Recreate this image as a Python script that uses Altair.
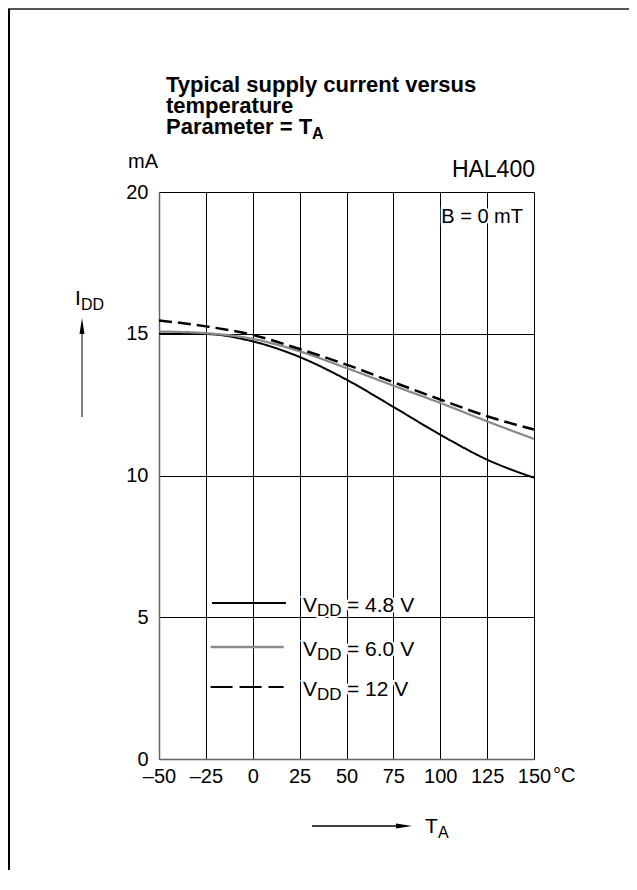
import altair as alt
import pandas as pd

FONT = "Liberation Sans"

# ---- data ----
temps = [-50, -25, 0, 25, 50, 75, 100, 125, 150]
i_48 = [15.00, 14.99, 14.73, 14.18, 13.38, 12.42, 11.44, 10.56, 9.92]
i_60 = [15.08, 15.02, 14.82, 14.38, 13.79, 13.17, 12.56, 11.91, 11.29]
i_12 = [15.47, 15.26, 14.96, 14.46, 13.91, 13.29, 12.68, 12.09, 11.62]
series_names = ["4.8 V", "6.0 V", "12 V"]
series_values = [i_48, i_60, i_12]
x_ticks = [-50, -25, 0, 25, 50, 75, 100, 125, 150]
y_ticks = [0, 5, 10, 15, 20]

# styles
series_colors = ["#000000", "#8a8a8a", "#000000"]
series_dash = [[1, 0], [1, 0], [13, 6]]
legend_dash = [[1, 0], [1, 0], [22, 7]]
series_width = [2, 2.5, 2]

# legend placement (data units)
legend_x1 = [-21.7, -22.5, -22.5]
legend_x2 = [17.7, 16.5, 16.5]
legend_y = [5.5, 3.95, 2.54]
legend_label_x = 26.8

rows = []
for name, vals in zip(series_names, series_values):
    for t, v in zip(temps, vals):
        rows.append({"T": t, "I": v, "series": name})
df = pd.DataFrame(rows)

xscale = alt.Scale(domain=[-50, 150], nice=False, zero=False)
yscale = alt.Scale(domain=[0, 20], nice=False)
xaxis = alt.Axis(values=x_ticks, grid=True, gridColor="#000", gridWidth=1, gridOpacity=1,
                 tickSize=0, labelPadding=7, labelFontSize=20, labelFont=FONT,
                 labelColor="#000", labelFlush=False, labelOverlap=False,
                 domainColor="#666", domainWidth=1.5, title=None,
                 labelExpr="datum.value < 0 ? '\u2013' + abs(datum.value) : '' + datum.value")
yaxis = alt.Axis(values=y_ticks, grid=True, gridColor="#000", gridWidth=1, gridOpacity=1,
                 tickSize=0, labelPadding=11, labelFontSize=20, labelFont=FONT,
                 labelColor="#000", labelFlush=False, labelOverlap=False,
                 domainColor="#666", domainWidth=1.5, title=None)

layers = []

curves = alt.Chart(df).mark_line(interpolate="monotone").encode(
    x=alt.X("T:Q", scale=xscale, axis=xaxis),
    y=alt.Y("I:Q", scale=yscale, axis=yaxis),
    color=alt.Color("series:N", scale=alt.Scale(domain=series_names, range=series_colors), legend=None),
    strokeDash=alt.StrokeDash("series:N", scale=alt.Scale(domain=series_names, range=series_dash), legend=None),
    strokeWidth=alt.StrokeWidth("series:N", scale=alt.Scale(domain=series_names, range=series_width), legend=None),
    detail="series:N",
)
layers.append(curves)

# ---- legend (data coords) ----
for i, name in enumerate(series_names):
    ldf = pd.DataFrame({"x1": [legend_x1[i]], "x2": [legend_x2[i]], "y": [legend_y[i]],
                        "lx": [legend_label_x]})
    layers.append(alt.Chart(ldf).mark_rule(color=series_colors[i], strokeWidth=series_width[i],
                                           strokeDash=legend_dash[i]).encode(
        x=alt.X("x1:Q", scale=xscale, axis=xaxis), x2="x2:Q",
        y=alt.Y("y:Q", scale=yscale, axis=yaxis)))
    pieces = [("V", 0, 9, 21), ("DD", 14, 13, 17), ("= " + name, 44, 9, 21)]
    for txt, dx, dy, fs in pieces:
        for halo in (True, False):
            kw = dict(text=txt, font=FONT, fontSize=fs, align="left", baseline="alphabetic",
                      dx=dx, dy=dy, color="#000")
            if halo:
                kw.update(stroke="#fff", strokeWidth=4, color="#fff")
            layers.append(alt.Chart(ldf).mark_text(**kw).encode(
                x=alt.X("lx:Q", scale=xscale, axis=xaxis),
                y=alt.Y("y:Q", scale=yscale, axis=yaxis)))

one = pd.DataFrame({"k": [0]})


def ptext(txt, x, y, size=20, weight="normal", align="left", halo=False):
    out = []
    if halo:
        out.append(alt.Chart(one).mark_text(text=txt, font=FONT, fontSize=size, fontWeight=weight,
                                            align=align, baseline="alphabetic", color="#fff",
                                            stroke="#fff", strokeWidth=4).encode(
            x=alt.value(x), y=alt.value(y)))
    out.append(alt.Chart(one).mark_text(text=txt, font=FONT, fontSize=size, fontWeight=weight,
                                        align=align, baseline="alphabetic", color="#000").encode(
        x=alt.value(x), y=alt.value(y)))
    return out


def prule(x, x2, y, y2, color="#000", width=1.5):
    return alt.Chart(one).mark_rule(color=color, strokeWidth=width).encode(
        x=alt.value(x), x2=alt.value(x2), y=alt.value(y), y2=alt.value(y2))


def parrow(x, y, shape):
    return alt.Chart(one).mark_point(shape=shape, filled=True, size=256, color="#000",
                                     opacity=1, strokeWidth=0).encode(
        x=alt.value(x), y=alt.value(y))


# ---- title ----
layers += ptext("Typical supply current versus", 7, -100, 22, "bold")
layers += ptext("temperature", 7, -79, 22, "bold")
layers += ptext("Parameter = T", 7, -58, 22, "bold")
layers += ptext("A", 153, -53, 16, "bold")

# ---- corner texts ----
layers += ptext("mA", -31, -24, 20)
layers += ptext("HAL400", 376, -15, 23, align="right")
layers += ptext("B = 0 mT", 364, 31, 20, align="right", halo=True)
layers += ptext("\u00b0C", 394, 590, 20)

# ---- y quantity label + arrow ----
layers += ptext("I", -84, 113, 21)
layers += ptext("DD", -78, 118, 16)
layers.append(prule(-77, -77, 142, 225, "#555", 1.5))
layers.append(parrow(-77, 134, "M0,-1L0.31,1L-0.31,1Z"))

# ---- x quantity label + arrow ----
layers.append(prule(153, 240, 634, 634, "#000", 1.5))
layers.append(parrow(245, 634, "M1,0L-1,-0.31L-1,0.31Z"))
layers += ptext("T", 266, 641, 21)
layers += ptext("A", 279, 646, 16)

# ---- frame of the figure ----
layers.append(prule(-151, 470, -183, -183, "#555", 2))
layers.append(prule(-150, -150, -183, 678, "#000", 2))

chart = alt.layer(*layers).properties(
    width=375, height=567,
    autosize=alt.AutoSizeParams(type="none"),
    padding={"left": 151, "top": 184, "right": 95, "bottom": 119},
).configure_view(stroke=None)

chart.save("out.html", embed_options={"renderer": "svg", "actions": False})
